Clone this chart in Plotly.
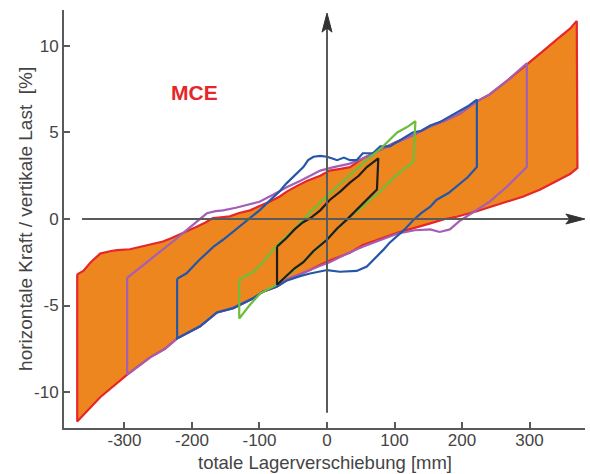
import plotly.graph_objects as go

# Hysteresis loops: horizontal force / vertical load [%] vs. total bearing displacement [mm]
# Each loop: upper (loading) branch and lower (unloading) branch, both listed with ascending displacement.

# MCE loop (largest, filled)
mce_up_x = [-370, -366, -361, -350, -336, -320, -311, -292, -270, -243, -230, -218, -205, -193, -180, -169,
            -157, -144, -130, -114, -100, -85, -70, -59, -45, -30, -10, 4, 20, 34, 53, 75, 100, 125, 150,
            175, 197, 222, 241, 267, 296, 320, 341, 360, 370]
mce_up_y = [-3.2, -3.1, -3.0, -2.5, -2.0, -1.85, -1.8, -1.75, -1.55, -1.3, -1.1, -0.9, -0.65, -0.45, -0.2, 0.05,
            0.1, 0.15, 0.35, 0.5, 0.75, 1.0, 1.3, 1.6, 1.9, 2.2, 2.5, 2.8, 2.9, 3.0, 3.5, 3.9, 4.4, 4.8, 5.3,
            5.7, 6.1, 6.8, 7.2, 8.0, 8.9, 9.7, 10.4, 11.0, 11.45]
mce_lo_x = [-370, -350, -336, -296, -262, -240, -222, -188, -163, -139, -110, -95, -74, -59, -40, -25, -10, 4,
            20, 34, 53, 75, 104, 130, 153, 175, 192, 222, 241, 267, 290, 316, 340, 360, 371]
mce_lo_y = [-11.7, -10.9, -10.3, -9.0, -8.0, -7.5, -6.9, -6.2, -5.4, -5.15, -4.6, -4.2, -3.9, -3.5, -3.2, -2.95,
            -2.65, -2.4, -2.15, -1.95, -1.5, -1.2, -0.8, -0.5, -0.25, 0.0, 0.13, 0.45, 0.7, 1.0, 1.29, 1.7,
            2.2, 2.6, 2.95]

# Purple loop
pur_up_x = [-296, -270, -243, -225, -208, -192, -178, -165, -154, -135, -119, -100, -80, -59, -40, -25, -10,
            10, 34, 53, 75, 100, 125, 150, 175, 197, 222, 241, 267, 296]
pur_up_y = [-3.4, -2.6, -1.8, -1.2, -0.64, -0.1, 0.33, 0.45, 0.5, 0.65, 0.8, 1.0, 1.4, 1.85, 2.2, 2.5, 2.8,
            3.0, 3.2, 3.5, 3.9, 4.4, 4.8, 5.3, 5.7, 6.1, 6.8, 7.2, 8.0, 9.0]
pur_lo_x = [-296, -262, -240, -222, -188, -163, -139, -110, -95, -74, -59, -40, -25, -10, 4, 30, 53, 80, 104,
            130, 153, 167, 182, 197, 216, 241, 266, 296]
pur_lo_y = [-9.0, -8.0, -7.5, -6.9, -6.2, -5.4, -5.15, -4.6, -4.2, -3.9, -3.5, -3.2, -2.95, -2.7, -2.5, -2.0,
            -1.6, -1.2, -0.85, -0.65, -0.6, -0.75, -0.6, -0.1, 0.35, 1.0, 1.85, 3.0]

# Blue loop
blu_up_x = [-222, -215, -208, -190, -168, -154, -135, -119, -100, -84, -70, -60, -48, -35, -28, -20, -10, 0,
            8, 15, 25, 34, 44, 53, 68, 79, 93, 110, 127, 140, 153, 167, 180, 193, 208, 222]
blu_up_y = [-3.45, -3.3, -3.14, -2.4, -1.6, -1.2, -0.6, -0.06, 0.5, 1.1, 1.6, 2.06, 2.5, 3.0, 3.4, 3.6, 3.65,
            3.6, 3.5, 3.4, 3.55, 3.4, 3.4, 3.8, 3.8, 4.2, 4.2, 4.6, 5.0, 5.1, 5.4, 5.6, 5.9, 6.2, 6.5, 6.9]
blu_lo_x = [-222, -188, -163, -139, -110, -95, -74, -59, -40, -25, -15, 0, 19, 29, 44, 59, 70, 83, 92, 103,
            115, 128, 140, 153, 162, 180, 192, 208, 222]
blu_lo_y = [-6.9, -6.2, -5.4, -5.15, -4.6, -4.2, -3.9, -3.55, -3.3, -3.15, -3.05, -2.95, -3.05, -3.05, -3.0,
            -2.75, -2.3, -1.8, -1.4, -1.02, -0.6, -0.06, 0.35, 0.71, 1.1, 1.5, 1.87, 2.4, 3.0]

# Green loop
grn_up_x = [-130, -120, -109, -95, -77, -60, -45, -36, -20, 0, 20, 40, 60, 79, 92, 104, 118, 131]
grn_up_y = [-3.5, -3.3, -3.05, -2.5, -1.65, -1.0, -0.45, -0.05, 0.6, 1.35, 2.05, 2.75, 3.45, 4.05, 4.55, 5.0,
            5.3, 5.65]
grn_lo_x = [-130, -115, -99, -77, -60, -36, -20, 0, 15, 30, 54, 79, 103, 128]
grn_lo_y = [-5.75, -5.0, -4.3, -3.85, -3.3, -2.5, -1.9, -1.15, -0.55, 0.0, 0.75, 1.6, 2.55, 3.3]

# Black loop
blk_up_x = [-74, -60, -48, -36, -25, -10, 4, 20, 34, 47, 59, 68, 76]
blk_up_y = [-1.6, -1.1, -0.6, -0.2, 0.04, 0.5, 1.1, 1.6, 2.1, 2.5, 3.0, 3.25, 3.5]
blk_lo_x = [-74, -60, -48, -35, -20, 0, 15, 29, 41, 49, 64, 74]
blk_lo_y = [-3.8, -3.3, -2.85, -2.5, -1.85, -1.2, -0.55, -0.05, 0.4, 0.71, 1.3, 1.7]

x_ticks = [-300, -200, -100, 0, 100, 200, 300]
x_tick_text = ["-300", "-200", "-100", "0", "100", "200", "300"]
y_ticks = [-10, -5, 0, 5, 10]
y_tick_text = ["-10", "-5", "0", "5", "10"]

x_title = "totale Lagerverschiebung [mm]"
y_title = "horizontale Kraft / vertikale Last \u00a0[%]"
label_text = "MCE"
label_pos = (-196, 7.3)

COL_FILL = "#EE8620"
COL_RED = "#E5262B"
COL_PUR = "#A35FB5"
COL_BLU = "#2457A8"
COL_GRN = "#6DBE3A"
COL_BLK = "#1E1E1E"
AXIS_COL = "#5a5a5a"
TEXT_COL = "#444444"
FONT = "Liberation Sans, Arial, sans-serif"


def closed_loop(up_x, up_y, lo_x, lo_y):
    """Upper branch left->right, then lower branch right->left, closed."""
    xs = list(up_x) + list(reversed(lo_x)) + [up_x[0]]
    ys = list(up_y) + list(reversed(lo_y)) + [up_y[0]]
    return xs, ys


fig = go.Figure()

mx, my = closed_loop(mce_up_x, mce_up_y, mce_lo_x, mce_lo_y)
fig.add_trace(go.Scatter(x=mx, y=my, mode="lines", fill="toself", fillcolor=COL_FILL,
                         line=dict(color=COL_RED, width=2.2), hoverinfo="skip"))

for ux, uy, lx, ly, col in [
    (pur_up_x, pur_up_y, pur_lo_x, pur_lo_y, COL_PUR),
    (blu_up_x, blu_up_y, blu_lo_x, blu_lo_y, COL_BLU),
    (grn_up_x, grn_up_y, grn_lo_x, grn_lo_y, COL_GRN),
    (blk_up_x, blk_up_y, blk_lo_x, blk_lo_y, COL_BLK),
]:
    lx_, ly_ = closed_loop(ux, uy, lx, ly)
    fig.add_trace(go.Scatter(x=lx_, y=ly_, mode="lines", line=dict(color=col, width=2.2),
                             hoverinfo="skip"))

# Crosshair axes through the origin, with arrowheads
h_start, h_tip = -363, 382
v_start, v_tip = -11.2, 11.9
fig.add_shape(type="line", x0=h_start, x1=h_tip - 20, y0=0, y1=0,
              line=dict(color=AXIS_COL, width=2), layer="above")
fig.add_shape(type="line", x0=0, x1=0, y0=v_start, y1=v_tip - 0.9,
              line=dict(color=AXIS_COL, width=2), layer="above")
fig.add_shape(type="path", xsizemode="pixel", ysizemode="pixel", xanchor=h_tip, yanchor=0,
              path="M0,0 L-19,5 L-15,0 L-19,-5 Z", fillcolor="#333333",
              line=dict(color="#333333", width=1), layer="above")
fig.add_shape(type="path", xsizemode="pixel", ysizemode="pixel", xanchor=0, yanchor=v_tip,
              path="M0,0 L-5,-19 L0,-15 L5,-19 Z", fillcolor="#333333",
              line=dict(color="#333333", width=1), layer="above")

fig.add_annotation(x=label_pos[0], y=label_pos[1], text="<b>%s</b>" % label_text, showarrow=False,
                   font=dict(family=FONT, size=21, color=COL_RED))

fig.add_annotation(xref="paper", yref="paper", x=0.5, y=-0.0835, text=x_title, showarrow=False,
                   yanchor="middle", font=dict(family=FONT, size=18.5, color=TEXT_COL))
fig.add_annotation(xref="paper", yref="paper", x=-0.075, y=0.5, text=y_title, showarrow=False,
                   textangle=-90, xanchor="center", font=dict(family=FONT, size=19, color=TEXT_COL))

fig.update_layout(
    width=590, height=474,
    margin=dict(l=64, r=5, t=10, b=46),
    paper_bgcolor="white", plot_bgcolor="white",
    showlegend=False,
    xaxis=dict(range=[-389.6, 382.2], tickvals=x_ticks, ticktext=x_tick_text,
               showgrid=False, zeroline=False, showline=True, linecolor=AXIS_COL, linewidth=2,
               ticks="inside", ticklen=6, tickwidth=1.5, tickcolor=AXIS_COL,
               ticklabelstandoff=-4,
               tickfont=dict(family=FONT, size=17, color=TEXT_COL)),
    yaxis=dict(range=[-12.08, 12.08], tickvals=y_ticks, ticktext=y_tick_text,
               showgrid=False, zeroline=False, showline=True, linecolor=AXIS_COL, linewidth=2,
               ticks="inside", ticklen=6, tickwidth=1.5, tickcolor=AXIS_COL,
               tickfont=dict(family=FONT, size=17, color=TEXT_COL)),
)

fig.write_html("out.html")
